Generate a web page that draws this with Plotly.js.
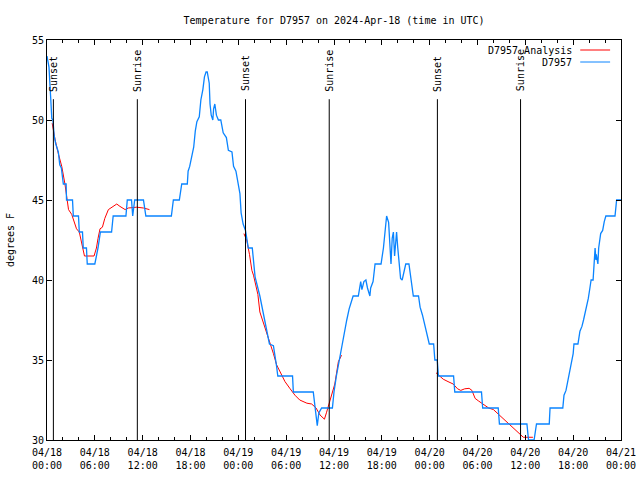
<!DOCTYPE html>
<html>
<head>
<meta charset="utf-8">
<script src="https://cdn.plot.ly/plotly-3.0.1.min.js"></script>
<style>html,body{margin:0;padding:0;background:#fff;}#chart{width:640px;height:480px;}</style>
</head>
<body>
<div id="chart"></div>
<script>
// Hours since 2024-04-18 00:00 UTC
const obsHours = [0.0,0.25,0.45,0.6,0.75,0.9,1.1,1.42,1.6,1.8,2.05,2.4,2.45,3.2,3.3,3.95,4.05,4.45,4.55,4.95,5.05,6.0,6.2,6.4,6.7,8.1,8.3,9.9,10.07,10.6,10.75,11.0,12.1,12.4,15.6,15.85,16.6,16.9,17.6,17.7,17.9,18.15,18.4,18.6,18.8,19.1,19.3,19.55,19.75,19.95,20.1,20.35,20.45,20.6,20.8,20.9,21.05,21.25,21.5,21.8,22.1,22.5,22.75,23.2,23.4,23.7,23.9,24.2,24.35,24.6,24.9,25.25,25.75,26.1,26.7,27.1,27.5,27.9,28.4,28.8,28.95,30.8,30.9,33.4,33.6,33.9,34.1,34.45,35.8,36.0,36.3,36.75,37.2,37.6,37.9,38.4,39.05,39.35,39.5,39.75,40.0,40.2,40.5,40.6,40.9,41.15,41.9,42.2,42.4,42.6,42.85,43.05,43.15,43.3,43.45,43.6,43.85,44.0,44.2,44.35,44.55,44.75,45.0,45.4,45.75,45.95,46.6,46.8,47.1,47.4,47.7,47.95,48.5,48.65,48.95,49.1,51.0,51.15,54.5,54.65,56.6,56.75,60.2,60.4,61.1,61.4,63.0,63.1,64.7,64.85,65.1,65.4,65.6,65.8,66.0,66.1,66.6,66.85,67.1,67.3,67.5,67.7,67.9,68.1,68.25,68.5,68.6,68.75,68.85,68.9,69.1,69.2,69.45,69.7,69.9,70.1,71.25,71.45,72.0];
const obsTemp = [54.0,53.3,51.5,50.1,50.0,49.0,48.5,48.0,47.2,47.0,46.0,46.0,45.0,45.0,44.0,44.0,43.0,43.0,42.0,42.0,41.0,41.0,41.5,42.0,43.0,43.0,44.0,44.0,45.0,45.0,44.0,45.0,45.0,44.0,44.0,45.0,45.0,46.0,46.0,46.8,47.1,47.8,48.3,49.3,49.9,50.2,51.25,51.9,52.7,53.0,53.0,52.3,51.0,50.3,50.0,50.7,51.0,50.3,50.0,50.0,49.2,48.9,48.1,48.0,47.1,46.8,46.25,45.4,44.2,43.5,43.1,42.0,42.0,40.2,39.0,37.9,37.0,36.0,35.9,34.6,34.0,34.0,33.0,33.0,32.0,30.9,31.7,32.0,32.0,33.0,34.0,35.2,36.6,37.5,38.2,39.0,39.0,39.9,39.4,39.9,40.0,39.5,39.0,39.5,39.9,41.0,41.0,42.0,43.0,44.0,43.6,42.0,41.0,42.6,43.0,41.5,43.0,42.0,41.0,40.1,40.0,40.5,41.0,41.0,39.6,39.0,39.0,38.3,37.8,37.1,36.6,36.0,36.0,35.0,35.0,34.0,34.0,33.0,33.0,32.0,32.0,31.0,31.0,30.0,30.0,31.0,31.0,32.0,32.0,32.8,33.1,33.85,34.2,34.7,35.4,36.0,36.0,36.8,37.1,37.5,37.9,38.4,38.85,39.5,40.0,40.0,41.0,42.0,41.25,41.6,41.0,42.0,42.9,43.1,43.65,44.0,44.0,45.0,45.0];

const anaHours = [0.65,1.0,1.42,1.85,2.25,2.55,2.7,3.1,3.3,3.7,4.05,4.35,4.55,4.7,5.9,6.2,6.4,6.65,6.95,7.25,7.7,8.25,8.75,9.15,9.8,10.2,11.25,12.1,12.85,null,
  24.7,25.05,25.4,25.7,25.9,26.2,26.45,26.7,27.1,27.55,28.0,28.4,28.8,29.2,29.85,30.5,31.1,31.7,32.6,33.2,33.75,34.25,34.8,35.05,35.4,35.7,36.1,36.55,36.95,null,
  48.8,49.3,49.7,50.3,50.95,51.5,51.9,52.4,52.95,53.3,53.7,54.1,54.7,55.4,56.0,56.85,57.45,58.1,58.8,59.3,59.75,60.95];
const anaTemp = [49.8,48.8,47.9,47.1,46.0,45.0,44.4,44.1,43.75,43.2,43.0,42.2,41.9,41.5,41.5,42.0,42.6,43.2,43.3,43.85,44.4,44.6,44.75,44.6,44.4,44.5,44.55,44.5,44.4,null,
  42.9,42.5,41.6,40.6,40.3,39.6,39.1,38.0,37.4,36.8,36.05,35.4,34.7,34.3,33.65,33.2,32.8,32.5,32.3,32.25,32.0,31.56,31.3,31.7,32.3,32.9,33.5,34.9,35.3,null,
  34.2,34.0,33.8,33.65,33.5,33.2,33.1,33.2,33.23,33.1,32.6,32.45,32.25,32.0,31.9,31.5,31.25,30.94,30.6,30.35,30.17,30.17];

const sunHours = [0.8, 11.33, 24.9, 35.4, 48.97, 59.4];
const sunLabels = ["Sunset","Sunrise","Sunset","Sunrise","Sunset","Sunrise"];

const seriesNames = ["D7957 Analysis", "D7957"];
const seriesColors = ["#ff0000", "#0a84ff"];

const base = Date.UTC(2024, 3, 18, 0, 0, 0);
function toDate(h) {
  if (h === null) return null;
  const d = new Date(base + h * 3600000);
  return d.toISOString().replace('T', ' ').slice(0, 19);
}

const font = {family: '"DejaVu Sans Mono", "Liberation Mono", monospace', size: 10, color: '#000'};

const traces = [
  {x: anaHours.map(toDate), y: anaTemp, type: 'scatter', mode: 'lines', name: seriesNames[0],
   line: {color: seriesColors[0], width: 1}, connectgaps: false, showlegend: false},
  {x: obsHours.map(toDate), y: obsTemp, type: 'scatter', mode: 'lines', name: seriesNames[1],
   line: {color: seriesColors[1], width: 1.3}, showlegend: false}
];

const shapes = sunHours.map(h => ({
  type: 'line', xref: 'x', yref: 'y', x0: toDate(h), x1: toDate(h), y0: 30, y1: 51.3,
  line: {color: '#000', width: 1}
}));
const annotations = sunHours.map((h, i) => ({
  x: toDate(h), y: 51.65, xref: 'x', yref: 'y', text: sunLabels[i], textangle: -90,
  showarrow: false, xanchor: 'center', yanchor: 'bottom', font: font
}));

// legend (gnuplot style: text then sample line)
const legY = [0.975, 0.945];
seriesNames.forEach((n, i) => {
  annotations.push({x: 0.918, y: legY[i], xref: 'paper', yref: 'paper', text: n, showarrow: false,
    xanchor: 'right', yanchor: 'middle', font: font});
  shapes.push({type: 'line', xref: 'paper', yref: 'paper', x0: 0.929, x1: 0.981, y0: legY[i], y1: legY[i],
    line: {color: seriesColors[i], width: 1}});
});

const layout = {
  width: 640, height: 480,
  margin: {l: 47, r: 19, t: 40, b: 40, pad: 0},
  paper_bgcolor: '#fff', plot_bgcolor: '#fff',
  font: font,
  title: {text: 'Temperature for D7957 on 2024-Apr-18 (time in UTC)', font: font, x: 0.522, xanchor: 'center', y: 0.958, yanchor: 'middle'},
  xaxis: {
    type: 'date', range: [toDate(0), toDate(72)],
    tick0: toDate(0), dtick: 6 * 3600000, tickformat: '%m/%d<br>%H:%M',
    ticks: 'inside', ticklen: 5, tickcolor: '#000', tickwidth: 1,
    ticklabelstandoff: 3,
    minor: {dtick: 2 * 3600000, ticks: 'inside', ticklen: 3, tickcolor: '#000', showgrid: false},
    showline: true, linecolor: '#000', linewidth: 1, mirror: 'ticks',
    showgrid: false, zeroline: false, tickfont: font
  },
  yaxis: {
    range: [30, 55], dtick: 5, tick0: 30,
    ticks: 'inside', ticklen: 5, tickcolor: '#000', tickwidth: 1,
    showline: true, linecolor: '#000', linewidth: 1, mirror: 'ticks',
    showgrid: false, zeroline: false, tickfont: font,
    title: {text: 'degrees F', font: font, standoff: 15}
  },
  shapes: shapes,
  annotations: annotations,
  showlegend: false
};

Plotly.newPlot('chart', traces, layout, {staticPlot: true, displayModeBar: false});
</script>
</body>
</html>
